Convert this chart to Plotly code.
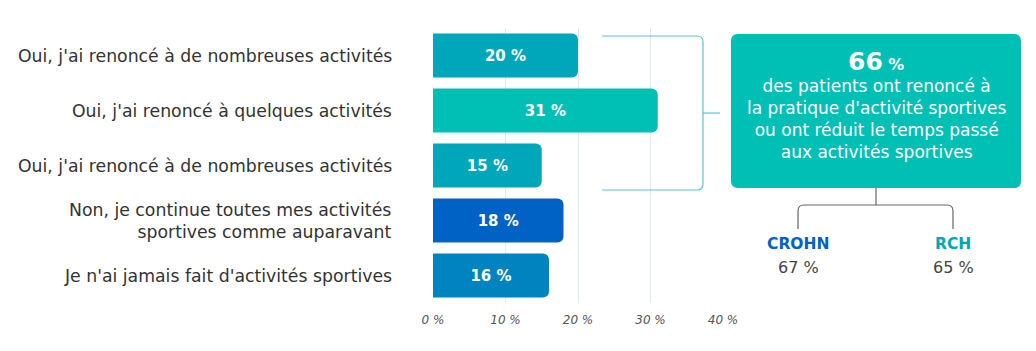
import plotly.graph_objects as go

# ---- data ----
categories = [
    "Oui, j'ai renoncé à de nombreuses activités",
    "Oui, j'ai renoncé à quelques activités",
    "Oui, j'ai renoncé à de nombreuses activités",
    "Non, je continue toutes mes activités<br>sportives comme auparavant",
    "Je n'ai jamais fait d'activités sportives",
]
values = [20, 31, 15, 18, 16]
bar_colors = ["#00A6BA", "#00BFB5", "#00A6BA", "#0062C4", "#0083BF"]
tick_vals = [0, 10, 20, 30, 40]
tick_text = ["0 %", "10 %", "20 %", "30 %", "40 %"]
total_value = 66
sub_labels = ["CROHN", "RCH"]
sub_values = [67, 65]
sub_colors = ["#0062C4", "#00A6BA"]

FONT = "DejaVu Sans, Open Sans, sans-serif"
W, H = 1036, 351
ML, MR, MT, MB = 433, 313, 28, 48
PW, PH = W - ML - MR, H - MT - MB


def px(x):
    return (x - ML) / PW


def py(y):
    return (H - MB - y) / PH


ypos = list(range(len(values)))

fig = go.Figure()
fig.add_trace(go.Bar(
    x=values, y=ypos, orientation="h",
    marker=dict(color=bar_colors, line=dict(width=0), cornerradius=6),
    width=0.8,
    text=[f"{v} %" for v in values],
    textposition="inside", insidetextanchor="middle",
    textfont=dict(family=FONT, size=15, color="white", weight="bold"),
    hoverinfo="skip",
))

# category labels
for i, c in enumerate(categories):
    fig.add_annotation(
        x=px(394), xref="paper", y=i, yref="y",
        text=c, showarrow=False, xanchor="right", yanchor="middle",
        align="right", font=dict(family=FONT, size=17.3, color="#333333"),
    )

shapes = []
# bracket
bc = "#55C6D4"
r = 6
bx, by0, by1, bl = 703, 36, 190, 602
path = (f"M {px(bl)} {py(by0)} L {px(bx - r)} {py(by0)} "
        f"Q {px(bx)} {py(by0)} {px(bx)} {py(by0 + r)} "
        f"L {px(bx)} {py(by1 - r)} "
        f"Q {px(bx)} {py(by1)} {px(bx - r)} {py(by1)} "
        f"L {px(bl)} {py(by1)}")
shapes.append(dict(type="path", path=path, xref="paper", yref="paper",
                   line=dict(color=bc, width=1.2)))
shapes.append(dict(type="line", xref="paper", yref="paper",
                   x0=px(703), x1=px(720), y0=py(113), y1=py(113),
                   line=dict(color=bc, width=1.2)))

# box
x0, x1, y0, y1, rr = 731, 1021, 34, 188, 7
box = (f"M {px(x0 + rr)} {py(y0)} L {px(x1 - rr)} {py(y0)} "
       f"Q {px(x1)} {py(y0)} {px(x1)} {py(y0 + rr)} "
       f"L {px(x1)} {py(y1 - rr)} Q {px(x1)} {py(y1)} {px(x1 - rr)} {py(y1)} "
       f"L {px(x0 + rr)} {py(y1)} Q {px(x0)} {py(y1)} {px(x0)} {py(y1 - rr)} "
       f"L {px(x0)} {py(y0 + rr)} Q {px(x0)} {py(y0)} {px(x0 + rr)} {py(y0)} Z")
shapes.append(dict(type="path", path=box, xref="paper", yref="paper",
                   fillcolor="#00BFB5", line=dict(width=0), layer="below"))

# tree
tc = "#666666"
cx, ty, lx, rx, by = 876, 205, 798, 953, 229
shapes.append(dict(type="line", xref="paper", yref="paper",
                   x0=px(cx), x1=px(cx), y0=py(188), y1=py(ty),
                   line=dict(color=tc, width=1.2)))
tpath = (f"M {px(lx)} {py(by)} L {px(lx)} {py(ty + r)} "
         f"Q {px(lx)} {py(ty)} {px(lx + r)} {py(ty)} "
         f"L {px(rx - r)} {py(ty)} Q {px(rx)} {py(ty)} {px(rx)} {py(ty + r)} "
         f"L {px(rx)} {py(by)}")
shapes.append(dict(type="path", path=tpath, xref="paper", yref="paper",
                   line=dict(color=tc, width=1.2)))

# box text
fig.add_annotation(
    x=px(876), y=py(61), xref="paper", yref="paper", showarrow=False,
    xanchor="center", yanchor="middle", height=26,
    text=f"<b>{total_value}</b><b><span style='font-size:16px'> %</span></b>",
    font=dict(family=FONT, size=25, color="white"),
)
fig.add_annotation(
    x=px(876), y=py(119), xref="paper", yref="paper", showarrow=False,
    xanchor="center", yanchor="middle", align="center",
    text=("des patients ont renoncé à<br>la pratique d'activité sportives<br>"
          "ou ont réduit le temps passé<br>aux activités sportives"),
    font=dict(family=FONT, size=17, color="white"),
)

for lab, val, col, xx in zip(sub_labels, sub_values, sub_colors, [lx, rx]):
    fig.add_annotation(x=px(xx), y=py(244), xref="paper", yref="paper",
                       showarrow=False, xanchor="center", yanchor="middle",
                       text=f"<b>{lab}</b>",
                       font=dict(family=FONT, size=15.5, color=col))
    fig.add_annotation(x=px(xx), y=py(267), xref="paper", yref="paper",
                       showarrow=False, xanchor="center", yanchor="middle",
                       text=f"{val} %",
                       font=dict(family=FONT, size=16, color="#444444"))

fig.update_layout(
    width=W, height=H,
    margin=dict(l=ML, r=MR, t=MT, b=MB, pad=0),
    paper_bgcolor="white", plot_bgcolor="white",
    showlegend=False, shapes=shapes,
    xaxis=dict(range=[0, 40], tickvals=tick_vals, ticktext=tick_text,
               showgrid=True, gridcolor="#DDEBF8", gridwidth=1,
               zeroline=False, showline=False, ticks="",
               ticklabelstandoff=8,
               tickfont=dict(family=FONT, size=12, color="#555555",
                             style="italic")),
    yaxis=dict(range=[4.5, -0.5], showticklabels=False, showgrid=False,
               zeroline=False, showline=False, ticks=""),
)

fig.write_html("out.html")
